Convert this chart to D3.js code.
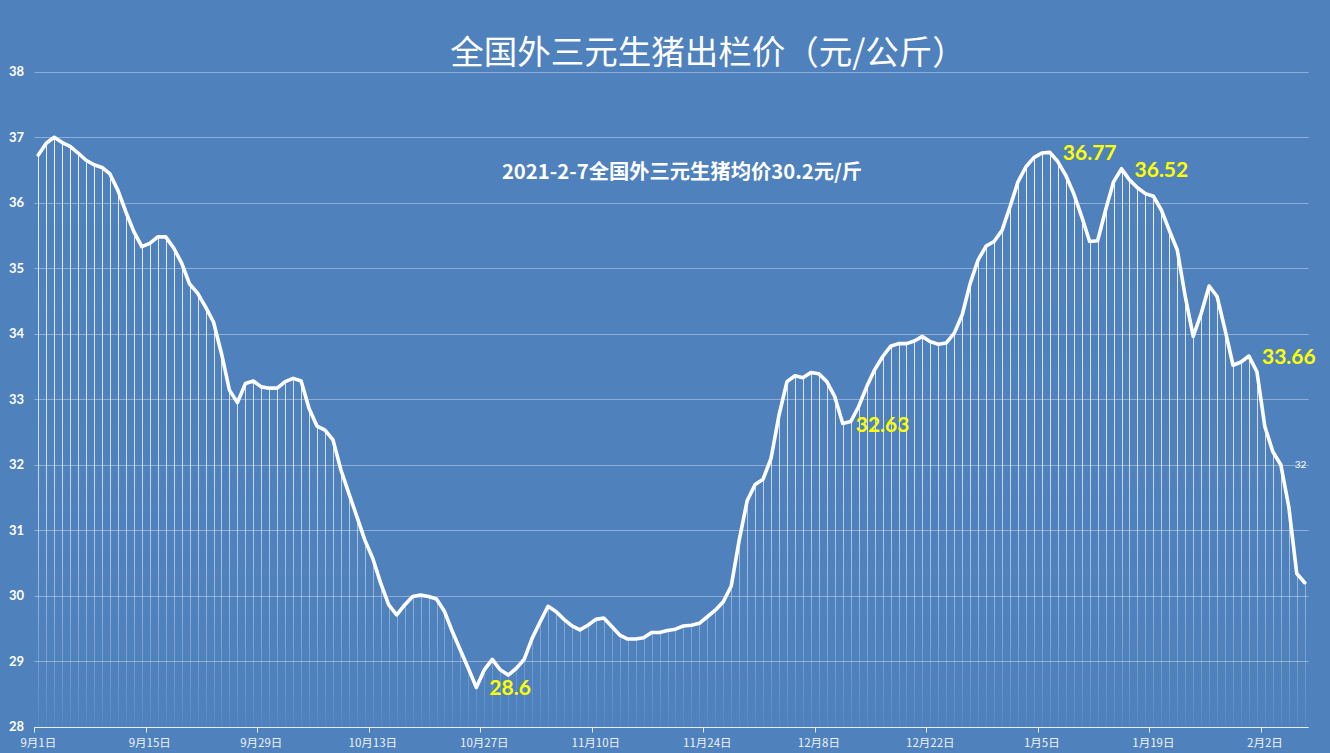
<!DOCTYPE html>
<html>
<head>
<meta charset="utf-8">
<script src="https://cdn.jsdelivr.net/npm/d3@7"></script>
<style>
  html, body { margin: 0; padding: 0; background: #4F81BD; }
  svg { display: block; }
</style>
</head>
<body>
<svg id="chart" width="1330" height="753"></svg>
<script>
// ---------- DATA ----------
const startDate = "2020-09-01";
const endDate = "2021-02-08"; // exclusive
const prices = [
  36.73, 36.91, 37.00, 36.92, 36.86, 36.76, 36.65, 36.58, 36.54, 36.44,
  36.19, 35.86, 35.56, 35.33, 35.38, 35.48, 35.48, 35.31, 35.08, 34.76,
  34.62, 34.41, 34.18, 33.70, 33.14, 32.95, 33.24, 33.28, 33.19, 33.17,
  33.17, 33.27, 33.32, 33.28, 32.86, 32.59, 32.53, 32.38, 31.92, 31.56,
  31.21, 30.85, 30.57, 30.19, 29.86, 29.71, 29.86, 29.99, 30.01, 29.99,
  29.95, 29.76, 29.45, 29.17, 28.89, 28.60, 28.87, 29.03, 28.87, 28.79,
  28.89, 29.03, 29.35, 29.60, 29.84, 29.76, 29.64, 29.54, 29.48, 29.55,
  29.64, 29.66, 29.53, 29.40, 29.34, 29.34, 29.36, 29.44, 29.44, 29.47,
  29.49, 29.54, 29.55, 29.58, 29.68, 29.78, 29.91, 30.15, 30.85, 31.45,
  31.70, 31.78, 32.10, 32.76, 33.27, 33.36, 33.33, 33.41, 33.39, 33.27,
  33.04, 32.63, 32.66, 32.89, 33.19, 33.45, 33.65, 33.81, 33.85, 33.85,
  33.89, 33.96, 33.88, 33.84, 33.86, 34.01, 34.29, 34.77, 35.13, 35.34,
  35.41, 35.58, 35.94, 36.32, 36.55, 36.69, 36.76, 36.77, 36.63, 36.42,
  36.14, 35.79, 35.41, 35.42, 35.89, 36.32, 36.52, 36.35, 36.23, 36.14,
  36.10, 35.89, 35.58, 35.28, 34.57, 33.96, 34.31, 34.73, 34.57, 34.06,
  33.52, 33.57, 33.66, 33.42, 32.58, 32.20, 32.00, 31.36, 30.34, 30.20
];
const yTicks = [28, 29, 30, 31, 32, 33, 34, 35, 36, 37, 38];
const xTickLabels = ["9月1日","9月15日","9月29日","10月13日","10月27日","11月10日",
                     "11月24日","12月8日","12月22日","1月5日","1月19日","2月2日"];
const highlightIdx = [55, 101, 127, 136, 152];   // yellow labels
const highlightText = ["28.6", "32.63", "36.77", "36.52", "33.66"];
const smallIdx = [156];
const smallText = ["32"];
const titleText = "全国外三元生猪出栏价（元/公斤）";
const noteText = "2021-2-7全国外三元生猪均价30.2元/斤";

(function () {
// ---------- CHART ----------
const svg = d3.select("#chart");
const W = 1330, H = 753;
const pLeft = 34.3, pRight = 1308.7, pTop = 71.8, pBottom = 726.8;

const categories = d3.timeDay.range(new Date(startDate + "T00:00:00"), new Date(endDate + "T00:00:00"));
const idx = d3.range(prices.length);

const x = d3.scaleBand().domain(idx).range([pLeft, pRight]).padding(0);
const cx = i => x(i) + x.bandwidth() / 2;
const y = d3.scaleLinear().domain([28, 38]).range([pBottom, pTop]);

svg.append("rect").attr("width", W).attr("height", H).attr("fill", "#4F81BD");

// gradient for drop lines
const defs = svg.append("defs");
const grad = defs.append("linearGradient").attr("id", "dropGrad")
  .attr("gradientUnits", "userSpaceOnUse")
  .attr("x1", 0).attr("x2", 0).attr("y1", pTop).attr("y2", pBottom);
grad.append("stop").attr("offset", "0%").attr("stop-color", "#fff").attr("stop-opacity", 0.95);
grad.append("stop").attr("offset", "60%").attr("stop-color", "#fff").attr("stop-opacity", 0.72);
grad.append("stop").attr("offset", "100%").attr("stop-color", "#fff").attr("stop-opacity", 0.05);

// gridlines
svg.append("g").selectAll("line").data(yTicks.filter(t => t > 28)).join("line")
  .attr("x1", pLeft).attr("x2", pRight)
  .attr("y1", d => Math.round(y(d)) + 0.5).attr("y2", d => Math.round(y(d)) + 0.5)
  .attr("stroke", "rgba(255,255,255,0.36)").attr("stroke-width", 1);

// y labels
svg.append("g").selectAll("text").data(yTicks).join("text")
  .attr("x", 24).attr("y", d => y(d)).attr("dy", "0.35em")
  .attr("text-anchor", "end")
  .attr("font-family", "Lato, 'Liberation Sans', sans-serif")
  .attr("font-weight", "bold").attr("font-size", 13)
  .attr("fill", "#ffffff")
  .text(d => d);

// drop lines
svg.append("g").selectAll("line").data(idx).join("line")
  .attr("x1", i => Math.round(cx(i)) + 0.5).attr("x2", i => Math.round(cx(i)) + 0.5)
  .attr("y1", i => y(prices[i])).attr("y2", pBottom)
  .attr("stroke", "url(#dropGrad)").attr("stroke-width", 1);

// x axis
const axisY = Math.round(pBottom) + 0.5;
svg.append("line").attr("x1", pLeft).attr("x2", pRight).attr("y1", axisY).attr("y2", axisY)
  .attr("stroke", "#e6edf6").attr("stroke-width", 1.2);
const tickIdx = xTickLabels.map((_, k) => k * 14);
svg.append("g").selectAll("line").data(tickIdx).join("line")
  .attr("x1", i => Math.round(x(i)) + 0.5).attr("x2", i => Math.round(x(i)) + 0.5)
  .attr("y1", axisY).attr("y2", axisY + 5)
  .attr("stroke", "#e6edf6").attr("stroke-width", 1);
svg.append("g").selectAll("text").data(tickIdx).join("text")
  .attr("x", i => cx(i)).attr("y", 743).attr("dy", "0.35em")
  .attr("text-anchor", "middle")
  .attr("font-family", "'Noto Sans CJK SC', sans-serif")
  .attr("font-size", 11.5).attr("fill", "#eef3fa")
  .text((i, k) => xTickLabels[k]);

// line
const line = d3.line().x(i => cx(i)).y(i => y(prices[i])).curve(d3.curveLinear);
svg.append("path").datum(idx).attr("d", line)
  .attr("fill", "none").attr("stroke", "#ffffff").attr("stroke-width", 3.6)
  .attr("stroke-linejoin", "round").attr("stroke-linecap", "round");

// highlight labels
svg.append("g").selectAll("text").data(highlightIdx).join("text")
  .attr("x", i => cx(i) + 13).attr("y", i => y(prices[i])).attr("dy", "0.38em")
  .attr("font-family", "Lato, 'Liberation Sans', sans-serif")
  .attr("font-weight", "bold").attr("font-size", 21)
  .attr("fill", "#FFFF00")
  .text((i, k) => highlightText[k]);

svg.append("g").selectAll("text").data(smallIdx).join("text")
  .attr("x", i => cx(i) + 14).attr("y", i => y(prices[i])).attr("dy", "0.35em")
  .attr("font-family", "Lato, 'Liberation Sans', sans-serif")
  .attr("font-size", 10).attr("fill", "#ffffff")
  .text((i, k) => smallText[k]);

// title
svg.append("text").attr("x", 708).attr("y", 64)
  .attr("text-anchor", "middle")
  .attr("font-family", "'Noto Sans CJK SC', sans-serif")
  .attr("font-size", 33.5).attr("fill", "#ffffff")
  .text(titleText);

// note
svg.append("text").attr("x", 682).attr("y", 179)
  .attr("text-anchor", "middle")
  .attr("font-family", "'Noto Sans CJK SC', sans-serif")
  .attr("font-weight", "bold").attr("font-size", 20.3).attr("fill", "#ffffff")
  .text(noteText);
})();
</script>
</body>
</html>
